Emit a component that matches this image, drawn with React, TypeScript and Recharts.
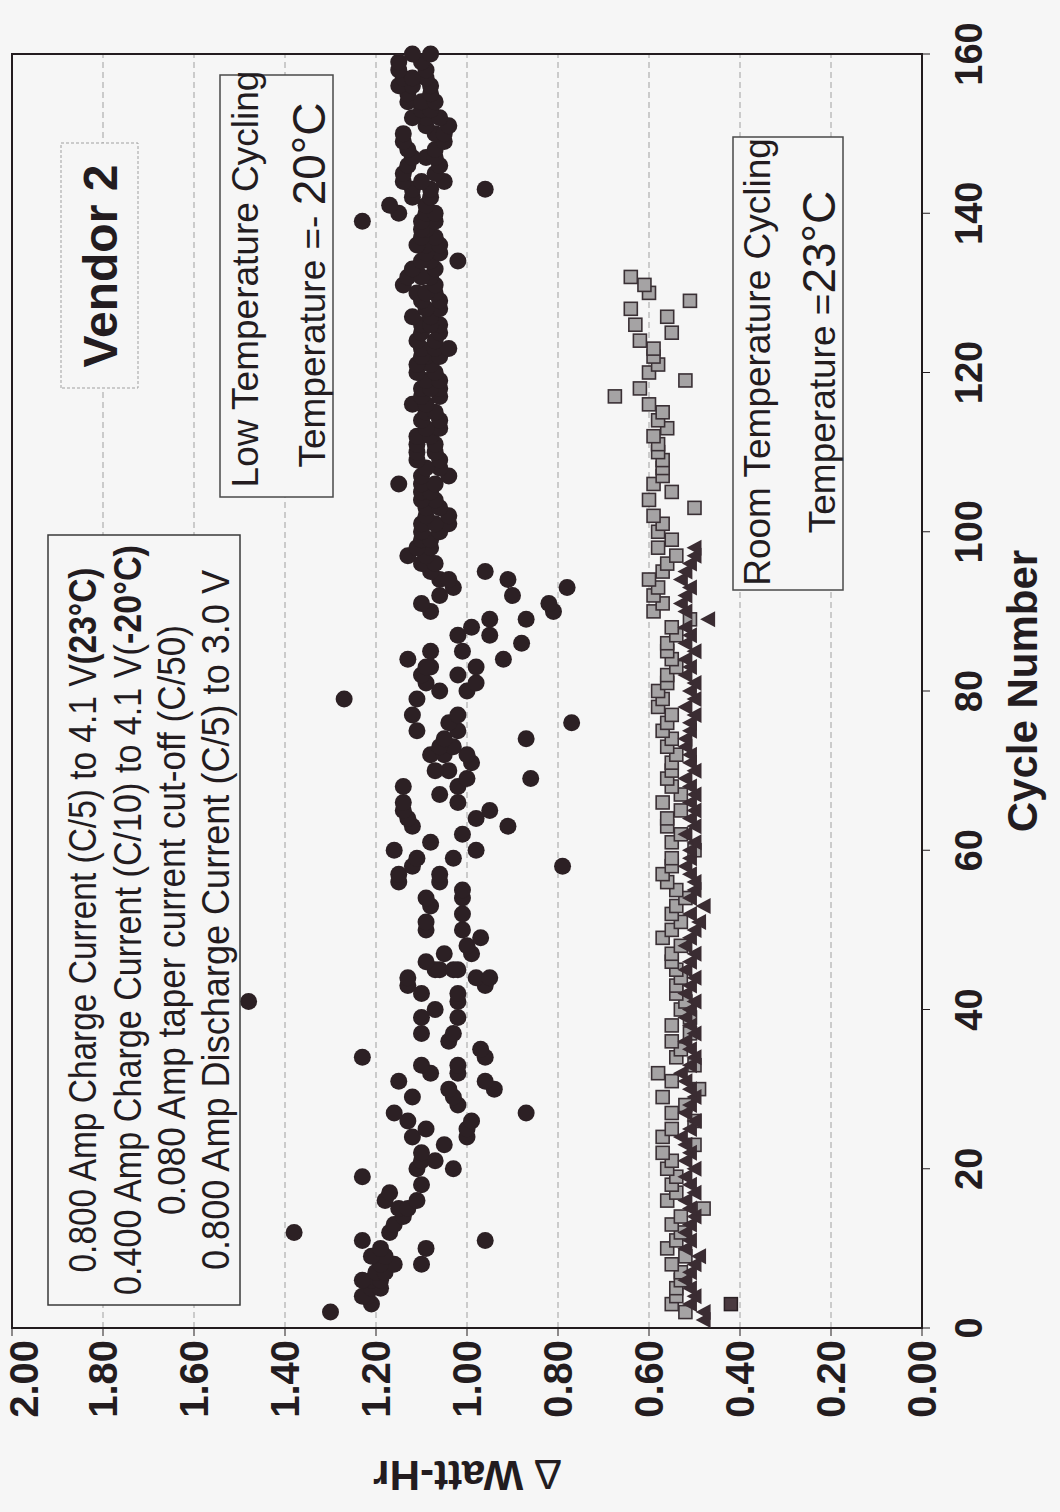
import {
  ScatterChart,
  Scatter,
  XAxis,
  YAxis,
  CartesianGrid,
  ReferenceArea,
} from "recharts";

// cycle number ticks and delta watt-hour ticks
const cycleTicks = [0, 20, 40, 60, 80, 100, 120, 140, 160];
const whTicks = [0, 0.2, 0.4, 0.6, 0.8, 1.0, 1.2, 1.4, 1.6, 1.8, 2.0];

// low temperature cycling (-20C), [cycle, delta Wh]
const lowTemp: [number, number][] = [
  [2, 1.3], [3, 1.21], [4, 1.22], [4, 1.23], [5, 1.21], [5, 1.19], [6, 1.21], [6, 1.19], [6, 1.23],
  [7, 1.2], [7, 1.18], [8, 1.16], [8, 1.1], [8, 1.19], [9, 1.18], [9, 1.21], [10, 1.19], [10, 1.09],
  [11, 1.23], [11, 0.96], [12, 1.38], [12, 1.17], [13, 1.16], [14, 1.14], [15, 1.15], [15, 1.13],
  [16, 1.18], [16, 1.11], [17, 1.17], [18, 1.1], [19, 1.23], [20, 1.11], [20, 1.03], [21, 1.1],
  [21, 1.07], [22, 1.1], [23, 1.05], [24, 1.12], [24, 1.0], [25, 1.09], [25, 1.0], [26, 1.13],
  [26, 0.99], [27, 1.16], [27, 0.87], [28, 1.02], [29, 1.12], [29, 1.03], [30, 1.04], [30, 0.94],
  [31, 1.15], [31, 0.96], [32, 1.08], [32, 1.02], [33, 1.1], [33, 1.02], [34, 1.23], [34, 0.96],
  [35, 0.97], [36, 1.04], [37, 1.03], [37, 1.1], [39, 1.02], [39, 1.1], [40, 1.07], [41, 1.02],
  [41, 1.48], [42, 1.02], [42, 1.1], [43, 1.13], [43, 0.96], [44, 0.98], [44, 0.95], [44, 1.13],
  [45, 1.07], [45, 1.02], [45, 1.06], [45, 1.03], [46, 1.09], [47, 0.99], [47, 1.05], [48, 1.0],
  [49, 0.97], [50, 1.09], [50, 1.01], [51, 1.09], [52, 1.01], [53, 1.08], [54, 1.09], [54, 1.01],
  [55, 1.01], [56, 1.15], [56, 1.06], [57, 1.15], [57, 1.06], [58, 1.12], [58, 0.79], [59, 1.11],
  [59, 1.03], [60, 1.16], [60, 0.98], [61, 1.08], [62, 1.01], [63, 1.12], [63, 0.91], [64, 1.13],
  [64, 0.98], [65, 1.14], [65, 0.95], [66, 1.14], [66, 1.02], [67, 1.06], [68, 1.14], [68, 1.02],
  [69, 1.0], [69, 0.86], [70, 1.04], [70, 1.07], [71, 0.99], [72, 1.08], [72, 1.0], [72, 1.05],
  [73, 1.03], [73, 1.06], [74, 1.05], [74, 0.87], [75, 1.11], [75, 1.02], [76, 1.04], [76, 0.77],
  [77, 1.12], [77, 1.02], [79, 1.11], [79, 1.27], [80, 1.06], [80, 1.0], [81, 1.09], [81, 0.98],
  [82, 1.1], [82, 1.02], [83, 1.08], [83, 0.98], [83, 1.09], [84, 1.13], [84, 0.92], [85, 1.01],
  [85, 1.08], [86, 0.88], [87, 1.02], [87, 0.95], [88, 0.99], [89, 0.95], [89, 0.87], [90, 1.08],
  [90, 0.81], [91, 1.1], [91, 0.82], [92, 1.06], [92, 0.9], [93, 1.03], [93, 0.78], [94, 1.06],
  [94, 0.91], [94, 1.04], [95, 0.96], [95, 1.08], [96, 1.1], [96, 1.07], [97, 1.13], [97, 1.09],
  [98, 1.08], [98, 1.11], [99, 1.1], [99, 1.08], [100, 1.06], [100, 1.1], [101, 1.04], [101, 1.1],
  [101, 1.07], [102, 1.04], [102, 1.09], [103, 1.09], [103, 1.06], [104, 1.07], [104, 1.1],
  [105, 1.1], [105, 1.08], [106, 1.15], [106, 1.1], [106, 1.07], [107, 1.04], [107, 1.1], [108, 1.06],
  [108, 1.09], [109, 1.11], [109, 1.06], [110, 1.07], [110, 1.11], [111, 1.11], [111, 1.07],
  [112, 1.11], [112, 1.08], [113, 1.06], [113, 1.09], [114, 1.1], [114, 1.06], [115, 1.09],
  [115, 1.07], [116, 1.12], [116, 1.09], [117, 1.06], [117, 1.1], [118, 1.1], [118, 1.06], [118, 1.08],
  [119, 1.09], [119, 1.06], [120, 1.11], [120, 1.07], [121, 1.08], [121, 1.11], [122, 1.09],
  [122, 1.06], [122, 1.1], [123, 1.1], [123, 1.07], [123, 1.04], [124, 1.11], [124, 1.07], [125, 1.06],
  [125, 1.1], [126, 1.1], [126, 1.06], [126, 1.08], [127, 1.12], [127, 1.08], [128, 1.06], [128, 1.09],
  [129, 1.1], [129, 1.06], [130, 1.11], [130, 1.07], [130, 1.09], [131, 1.14], [131, 1.07], [132, 1.13],
  [132, 1.08], [132, 1.1], [133, 1.12], [133, 1.07], [134, 1.02], [134, 1.08], [134, 1.1], [135, 1.06],
  [135, 1.09], [136, 1.09], [136, 1.11], [136, 1.06], [137, 1.07], [137, 1.1], [138, 1.09], [138, 1.1],
  [139, 1.23], [139, 1.07], [139, 1.1], [140, 1.15], [140, 1.09], [140, 1.07], [141, 1.17], [141, 1.09],
  [142, 1.12], [142, 1.08], [143, 1.12], [143, 0.96], [143, 1.08], [144, 1.14], [144, 1.05], [144, 1.1],
  [145, 1.14], [145, 1.07], [146, 1.13], [146, 1.06], [147, 1.09], [147, 1.07], [147, 1.12], [148, 1.13],
  [148, 1.07], [149, 1.14], [149, 1.05], [150, 1.07], [150, 1.14], [150, 1.05], [151, 1.09], [151, 1.04],
  [152, 1.09], [152, 1.06], [152, 1.12], [153, 1.1], [153, 1.08], [154, 1.13], [154, 1.1], [154, 1.07],
  [155, 1.13], [155, 1.08], [156, 1.15], [156, 1.08], [156, 1.12], [157, 1.14], [157, 1.09], [157, 1.12],
  [158, 1.15], [158, 1.09], [159, 1.15], [159, 1.1], [160, 1.12], [160, 1.08],
];

// room temperature cycling (23C), squares: cycles 2..132
const roomSqStart = 2;
const roomSq = [
  0.52, 0.55, 0.54, 0.54, 0.53, 0.53, 0.55, 0.52, 0.56, 0.54, 0.53, 0.55, 0.53, 0.48, 0.56, 0.54,
  0.55, 0.54, 0.56, 0.55, 0.57, 0.5, 0.57, 0.55, 0.5, 0.55, 0.52, 0.57, 0.49, 0.55, 0.58, 0.5,
  0.54, 0.53, 0.55, 0.51, 0.55, 0.51, 0.53, 0.52, 0.54, 0.54, 0.53, 0.54, 0.55, 0.55, 0.53, 0.57,
  0.55, 0.53, 0.55, 0.54, 0.52, 0.54, 0.56, 0.57, 0.55, 0.55, 0.5, 0.55, 0.53, 0.56, 0.56, 0.53,
  0.57, 0.53, 0.55, 0.56, 0.55, 0.55, 0.54, 0.56, 0.55, 0.57, 0.56, 0.55, 0.58, 0.57, 0.58, 0.56,
  0.56, 0.54, 0.55, 0.56, 0.56, 0.54, 0.55, 0.51, 0.59, 0.57, 0.59, 0.58, 0.6, 0.57, 0.56, 0.54,
  0.58, 0.55, 0.58, 0.57, 0.59, 0.5, 0.6, 0.55, 0.59, 0.57, 0.57, 0.57, 0.58, 0.58, 0.59, 0.56,
  0.58, 0.57, 0.6, 0.675, 0.62, 0.52, 0.6, 0.58, 0.59, 0.59, 0.62, 0.55, 0.63, 0.56, 0.64, 0.51,
  0.6, 0.61, 0.64,
];

// room temperature, triangles: cycles 1..98
const roomTriStart = 1;
const roomTri = [
  0.48, 0.48, 0.51, 0.5, 0.51, 0.52, 0.51, 0.5, 0.49, 0.52, 0.51, 0.52, 0.51, 0.5, 0.51, 0.52,
  0.5, 0.51, 0.52, 0.5, 0.52, 0.51, 0.52, 0.53, 0.51, 0.5, 0.52, 0.51, 0.5, 0.51, 0.52, 0.53,
  0.51, 0.5, 0.51, 0.52, 0.5, 0.51, 0.52, 0.51, 0.5, 0.52, 0.51, 0.5, 0.52, 0.51, 0.5, 0.52,
  0.51, 0.5, 0.49, 0.51, 0.48, 0.51, 0.5, 0.5, 0.51, 0.52, 0.51, 0.51, 0.5, 0.52, 0.5, 0.51,
  0.5, 0.51, 0.5, 0.51, 0.52, 0.5, 0.51, 0.51, 0.52, 0.52, 0.51, 0.51, 0.5, 0.52, 0.5, 0.51,
  0.5, 0.52, 0.51, 0.52, 0.5, 0.52, 0.51, 0.52, 0.47, 0.52, 0.53, 0.52, 0.51, 0.53, 0.52, 0.51,
  0.5, 0.5,
];

// odd dark square near start
const darkSq: [number, number][] = [[3, 0.42]];

const BG = "#f6f6f6";
const INK = "#231c1f";
const CIRCLE = "#2c2024";
const FONT = "'Liberation Sans', Arial, sans-serif";

const lowData = lowTemp.map(([c, w]) => ({ c, w }));
const sqData = roomSq.map((w, i) => ({ c: roomSqStart + i, w }));
const triData = roomTri.map((w, i) => ({ c: roomTriStart + i, w }));
const darkData = darkSq.map(([c, w]) => ({ c, w }));

const Dot = (p: any) => <circle cx={p.cx} cy={p.cy} r={8.5} fill={CIRCLE} />;
const Sq = (p: any) => (
  <rect x={p.cx - 6.5} y={p.cy - 6.5} width={13} height={13} fill="#a5a3a4" stroke="#3a3035" strokeWidth={1.6} />
);
const DarkSq = (p: any) => (
  <rect x={p.cx - 6.5} y={p.cy - 6.5} width={13} height={13} fill="#4a3a40" stroke="#2a2024" strokeWidth={1.5} />
);
const Tri = (p: any) => (
  <polygon
    points={`${p.cx},${p.cy - 8} ${p.cx + 8},${p.cy + 7} ${p.cx - 8},${p.cy + 7}`}
    fill="#3a2c32"
  />
);

function Chart() {
  return (
    <div style={{ position: "relative", width: 1512, height: 1060 }}>
      <ScatterChart width={1512} height={1060} margin={{ top: 12, right: 54, bottom: 78, left: 64 }}>
        <CartesianGrid horizontal vertical={false} stroke="#a0a0a0" strokeDasharray="6 4" />
        <XAxis
          type="number"
          dataKey="c"
          domain={[0, 160]}
          ticks={cycleTicks}
          height={60}
          tickSize={8}
          tickMargin={25}
          stroke={INK}
          tick={{ fontSize: 38, fontWeight: "bold", fill: INK, fontFamily: FONT }}
        />
        <YAxis
          type="number"
          dataKey="w"
          domain={[0, 2]}
          ticks={whTicks}
          width={120}
          tickSize={8}
          tickMargin={4}
          stroke={INK}
          tickFormatter={(v: number) => v.toFixed(2)}
          tick={{ fontSize: 40, fontWeight: "bold", fill: INK, fontFamily: FONT }}
        />
        <ReferenceArea x1={0} x2={160} y1={0} y2={2} fill="none" stroke={INK} strokeWidth={2} ifOverflow="visible" />
        <Scatter data={sqData} shape={Sq} isAnimationActive={false} />
        <Scatter data={triData} shape={Tri} isAnimationActive={false} />
        <Scatter data={darkData} shape={DarkSq} isAnimationActive={false} />
        <Scatter data={lowData} shape={Dot} isAnimationActive={false} />
      </ScatterChart>
      <svg
        width={1512}
        height={1060}
        style={{ position: "absolute", left: 0, top: 0, pointerEvents: "none" }}
        fontFamily={FONT}
        fill={INK}
      >
        {/* axis titles */}
        <text x={821} y={1022} textAnchor="middle" dominantBaseline="central" fontSize={42} fontWeight="bold">
          Cycle Number
        </text>
        <text
          x={37}
          y={467}
          transform="rotate(-90, 37, 467)"
          textAnchor="middle"
          dominantBaseline="central"
          fontSize={42}
          fontWeight="bold"
        >
          <tspan fontWeight="normal">∆</tspan> Watt-Hr
        </text>

        {/* vendor label */}
        <rect x={1124} y={61} width={245} height={77} fill={BG} stroke="#a0a0a0" strokeDasharray="3 2" />
        <text x={1246} y={117} textAnchor="middle" fontSize={48} fontWeight="bold">
          Vendor 2
        </text>

        {/* low temperature note */}
        <rect x={1015} y={220} width={422} height={113} fill={BG} stroke="#4a4a4a" strokeWidth={1.5} />
        <text x={1233} y={258} textAnchor="middle" fontSize={37}>
          Low Temperature Cycling
        </text>
        <text x={1227} y={325} textAnchor="middle" fontSize={37} style={{ whiteSpace: "pre" }}>
          {"Temperature =- "}
          <tspan fontSize={46}>20°C</tspan>
        </text>

        {/* room temperature note */}
        <rect x={922} y={733} width={453} height={110} fill={BG} stroke="#4a4a4a" strokeWidth={1.5} />
        <text x={1150} y={770} textAnchor="middle" fontSize={37}>
          Room Temperature Cycling
        </text>
        <text x={1150} y={835} textAnchor="middle" fontSize={37}>
          {"Temperature ="}
          <tspan fontSize={46}>23°C</tspan>
        </text>

        {/* test conditions */}
        <rect x={207} y={48} width={770} height={192} fill={BG} stroke="#3a3a3a" strokeWidth={1.5} />
        <g fontSize={38} textAnchor="middle" style={{ whiteSpace: "pre" }}>
          <text x={592} y={96} textLength={705} lengthAdjust="spacingAndGlyphs">
            {"0.800 Amp Charge Current (C/5) to 4.1 V"}
            <tspan fontWeight="bold">(23°C)</tspan>
          </text>
          <text x={592} y={141} textLength={750} lengthAdjust="spacingAndGlyphs">
            {"0.400 Amp Charge Current (C/10) to 4.1 V("}
            <tspan fontWeight="bold">-20°C)</tspan>
          </text>
          <text x={592} y={185} textLength={590} lengthAdjust="spacingAndGlyphs">
            0.080 Amp taper current cut-off (C/50)
          </text>
          <text x={592} y={229} textLength={700} lengthAdjust="spacingAndGlyphs">
            {"0.800 Amp Discharge Current  (C/5) to 3.0 V"}
          </text>
        </g>
      </svg>
    </div>
  );
}

export default function App() {
  return (
    <div
      style={{
        position: "absolute",
        left: 0,
        top: 0,
        width: 1060,
        height: 1512,
        overflow: "hidden",
        background: BG,
      }}
    >
      <div
        style={{
          position: "absolute",
          left: 0,
          top: 0,
          width: 1512,
          height: 1060,
          transformOrigin: "0 0",
          transform: "translate(0px, 1512px) rotate(-90deg)",
        }}
      >
        <Chart />
      </div>
    </div>
  );
}
